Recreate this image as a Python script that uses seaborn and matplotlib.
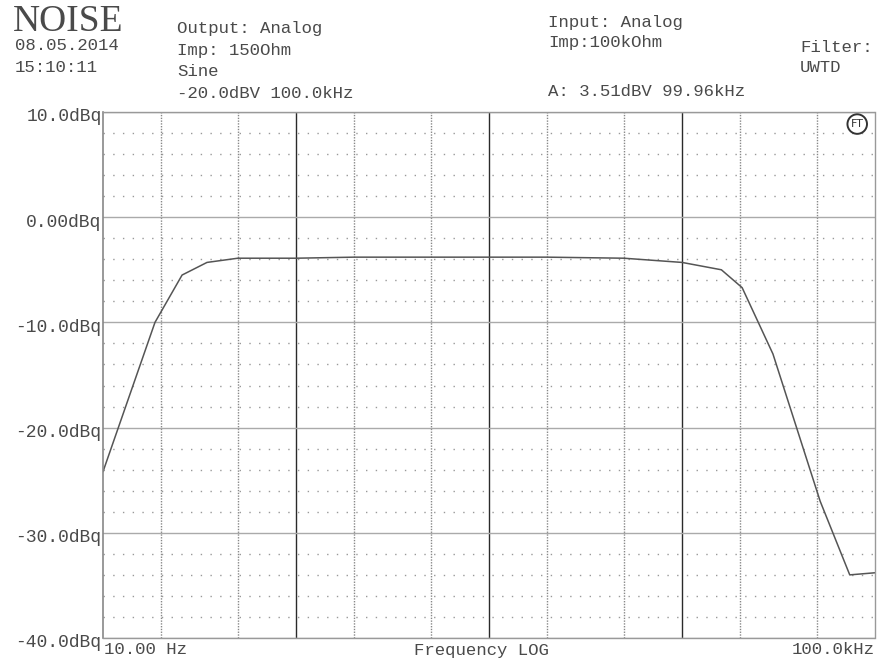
import numpy as np
import pandas as pd
import seaborn as sns
import matplotlib.pyplot as plt
import matplotlib.transforms as mtransforms

# sweep
freq_hz = [10, 18.6, 25.7, 34.6, 50, 100, 200, 500, 1000, 2000, 5000,
           10000, 16000, 20500, 29600, 52000, 74000, 100000]
level_dbq = [-24.2, -10.0, -5.5, -4.3, -3.9, -3.9, -3.8, -3.8, -3.8, -3.8, -3.9,
             -4.3, -5.0, -6.7, -13.0, -27.0, -34.0, -33.8]

y_ticks = [10, 0, -10, -20, -30, -40]
y_labels = ['10.0dBq', '0.00dBq', '-10.0dBq', '-20.0dBq', '-30.0dBq', '-40.0dBq']
decades = [100, 1000, 10000]
sub_decades = [20, 50, 200, 500, 2000, 5000, 20000, 50000]

df = pd.DataFrame({'freq': freq_hz, 'level': level_dbq})

sns.set_style('white')
plt.rcParams['font.family'] = ['Liberation Mono', 'DejaVu Sans']
ink = '#4a4a4a'

fig = plt.figure(figsize=(8.77, 6.61), dpi=100)
ax = fig.add_axes([0.1174, 0.0348, 0.8803, 0.7958])

sns.lineplot(data=df, x='freq', y='level', ax=ax, color='#555555', linewidth=1.1)
ax.set_xscale('log')
ax.set_xlim(10, 100000)
ax.set_ylim(-40, 10)

# grid
ax.set_xticks(decades)
ax.set_xticks(sub_decades, minor=True)
ax.set_xticklabels([])
ax.set_xticklabels([], minor=True)
ax.set_yticks(y_ticks)
ax.set_yticklabels(y_labels, fontsize=13, color=ink)
ax.set_yticks(np.arange(-38, 10, 2), minor=True)
ax.tick_params(which='both', length=0)
ax.tick_params(axis='y', pad=1)
# printout puts labels a touch below their lines
shift = mtransforms.ScaledTranslation(0, -3 / 100, fig.dpi_scale_trans)
for lab in ax.get_yticklabels():
    lab.set_transform(lab.get_transform() + shift)

ax.grid(False)
ax.xaxis.grid(True, which='major', color='#2a2a2a', linewidth=1.0)
ax.xaxis.grid(True, which='minor', color='#888888', linewidth=1, linestyle=(0, (1, 1)))
ax.yaxis.grid(True, which='major', color='#aaaaaa', linewidth=1)
ax.yaxis.grid(True, which='minor', color='#999999', linewidth=1, linestyle=(0, (1, 6)))
ax.set_axisbelow(True)
for side in ['top', 'right', 'bottom']:
    ax.spines[side].set_color('#999999')
    ax.spines[side].set_linestyle((0, (1, 1)))
    ax.spines[side].set_linewidth(1)
ax.spines['left'].set_color('#888888')
ax.spines['left'].set_linewidth(1.2)
ax.set_xlabel('')
ax.set_ylabel('')

# header
fig.text(13 / 877, 1 - 22 / 661, 'NOISE', fontsize=27, family='Liberation Serif',
         color=ink, va='center')
hdr = [(15, 46, '08.05.2014'), (15, 67, '15:10:11'),
       (177, 29, 'Output: Analog'), (177, 50, 'Imp: 150Ohm'), (177, 71, 'Sine'),
       (177, 93, '-20.0dBV 100.0kHz'),
       (548, 22, 'Input: Analog'), (548, 43, 'Imp:100kOhm'),
       (548, 92, 'A: 3.51dBV 99.96kHz'),
       (800, 47, 'Filter:'), (800, 67, 'UWTD')]
for x, y, s in hdr:
    fig.text(x / 877, 1 - y / 661, s, fontsize=12.5, color=ink, va='center')

# bottom labels
fig.text(104 / 877, 1 - 650 / 661, '10.00 Hz', fontsize=12.5, color=ink, va='center')
fig.text(481 / 877, 1 - 650 / 661, 'Frequency LOG', fontsize=12.5, color=ink,
         va='center', ha='center')
fig.text(875 / 877, 1 - 650 / 661, '100.0kHz', fontsize=12.5, color=ink,
         va='center', ha='right')

# logo
ax.text(0.977, 0.977, 'FT', transform=ax.transAxes, fontsize=8, color='#333333',
        ha='center', va='center', family='DejaVu Sans',
        bbox=dict(boxstyle='circle,pad=0.3', fc='white', ec='#333333', lw=1.4))

fig.savefig('out.png', dpi=100)
